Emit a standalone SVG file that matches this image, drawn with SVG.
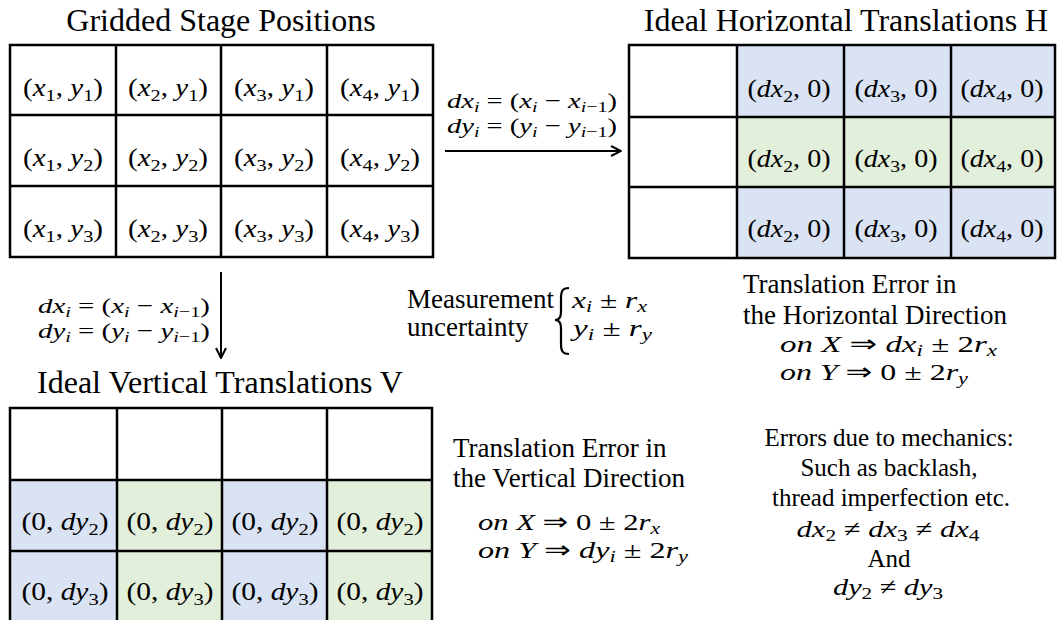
<svg xmlns="http://www.w3.org/2000/svg" width="1057" height="620" viewBox="0 0 1057 620">
<style>
.bg{fill:#ffffff}
.title{font-family:"Liberation Serif",serif;font-size:32px;fill:#000}
.txt{font-family:"Liberation Serif",serif;font-size:27px;fill:#000}
.txt2{font-family:"Liberation Serif",serif;font-size:25px;fill:#000}
.m{font-family:"Liberation Serif",serif;font-style:normal;fill:#000}
.c{font-size:25px}
.e{font-size:24px}
.i{font-style:italic}
.sub{font-size:70%}
.ar{font-family:"DejaVu Sans",sans-serif;font-style:normal;font-size:24px}
.grid{fill:none;stroke:#000;stroke-width:2.5}
.blue{fill:#dae3f3}
.green{fill:#e2efda}
.arrow{stroke:#000;stroke-width:2;fill:none}
</style>
<defs>
<marker id="ah" viewBox="0 0 12 12" refX="11" refY="6" markerWidth="12" markerHeight="12" markerUnits="userSpaceOnUse" orient="auto">
<path d="M1,1 L11,6 L1,11" fill="none" stroke="#000" stroke-width="2"/>
</marker>
</defs>
<rect class="bg" x="0" y="0" width="1057" height="620"/>

<g id="gridded-stage-positions">
<text class="title" x="221" y="31" text-anchor="middle">Gridded Stage Positions</text>
<rect class="grid" x="10" y="45" width="423" height="212"/>
<path class="grid" d="M116,45V257M221,45V257M327,45V257M10,115H433M10,186H433"/>
<g class="m c">
<text x="63" y="96" text-anchor="middle" textLength="80" lengthAdjust="spacingAndGlyphs">(<tspan class="i">x</tspan><tspan class="sub" dy="5">1</tspan><tspan dy="-5">, </tspan><tspan class="i">y</tspan><tspan class="sub" dy="5">1</tspan><tspan dy="-5">)</tspan></text>
<text x="168" y="96" text-anchor="middle" textLength="80" lengthAdjust="spacingAndGlyphs">(<tspan class="i">x</tspan><tspan class="sub" dy="5">2</tspan><tspan dy="-5">, </tspan><tspan class="i">y</tspan><tspan class="sub" dy="5">1</tspan><tspan dy="-5">)</tspan></text>
<text x="274" y="96" text-anchor="middle" textLength="80" lengthAdjust="spacingAndGlyphs">(<tspan class="i">x</tspan><tspan class="sub" dy="5">3</tspan><tspan dy="-5">, </tspan><tspan class="i">y</tspan><tspan class="sub" dy="5">1</tspan><tspan dy="-5">)</tspan></text>
<text x="380" y="96" text-anchor="middle" textLength="80" lengthAdjust="spacingAndGlyphs">(<tspan class="i">x</tspan><tspan class="sub" dy="5">4</tspan><tspan dy="-5">, </tspan><tspan class="i">y</tspan><tspan class="sub" dy="5">1</tspan><tspan dy="-5">)</tspan></text>
<text x="63" y="166" text-anchor="middle" textLength="80" lengthAdjust="spacingAndGlyphs">(<tspan class="i">x</tspan><tspan class="sub" dy="5">1</tspan><tspan dy="-5">, </tspan><tspan class="i">y</tspan><tspan class="sub" dy="5">2</tspan><tspan dy="-5">)</tspan></text>
<text x="168" y="166" text-anchor="middle" textLength="80" lengthAdjust="spacingAndGlyphs">(<tspan class="i">x</tspan><tspan class="sub" dy="5">2</tspan><tspan dy="-5">, </tspan><tspan class="i">y</tspan><tspan class="sub" dy="5">2</tspan><tspan dy="-5">)</tspan></text>
<text x="274" y="166" text-anchor="middle" textLength="80" lengthAdjust="spacingAndGlyphs">(<tspan class="i">x</tspan><tspan class="sub" dy="5">3</tspan><tspan dy="-5">, </tspan><tspan class="i">y</tspan><tspan class="sub" dy="5">2</tspan><tspan dy="-5">)</tspan></text>
<text x="380" y="166" text-anchor="middle" textLength="80" lengthAdjust="spacingAndGlyphs">(<tspan class="i">x</tspan><tspan class="sub" dy="5">4</tspan><tspan dy="-5">, </tspan><tspan class="i">y</tspan><tspan class="sub" dy="5">2</tspan><tspan dy="-5">)</tspan></text>
<text x="63" y="237" text-anchor="middle" textLength="80" lengthAdjust="spacingAndGlyphs">(<tspan class="i">x</tspan><tspan class="sub" dy="5">1</tspan><tspan dy="-5">, </tspan><tspan class="i">y</tspan><tspan class="sub" dy="5">3</tspan><tspan dy="-5">)</tspan></text>
<text x="168" y="237" text-anchor="middle" textLength="80" lengthAdjust="spacingAndGlyphs">(<tspan class="i">x</tspan><tspan class="sub" dy="5">2</tspan><tspan dy="-5">, </tspan><tspan class="i">y</tspan><tspan class="sub" dy="5">3</tspan><tspan dy="-5">)</tspan></text>
<text x="274" y="237" text-anchor="middle" textLength="80" lengthAdjust="spacingAndGlyphs">(<tspan class="i">x</tspan><tspan class="sub" dy="5">3</tspan><tspan dy="-5">, </tspan><tspan class="i">y</tspan><tspan class="sub" dy="5">3</tspan><tspan dy="-5">)</tspan></text>
<text x="380" y="237" text-anchor="middle" textLength="80" lengthAdjust="spacingAndGlyphs">(<tspan class="i">x</tspan><tspan class="sub" dy="5">4</tspan><tspan dy="-5">, </tspan><tspan class="i">y</tspan><tspan class="sub" dy="5">3</tspan><tspan dy="-5">)</tspan></text>
</g>
</g>

<g id="ideal-horizontal-translations">
<text class="title" x="846" y="31" text-anchor="middle">Ideal Horizontal Translations H</text>
<rect class="blue" x="737" y="45" width="318" height="72"/>
<rect class="green" x="737" y="117" width="318" height="70"/>
<rect class="blue" x="737" y="187" width="318" height="71"/>
<rect class="grid" x="629" y="45" width="426" height="213"/>
<path class="grid" d="M737,45V258M844,45V258M951,45V258M629,117H1055M629,187H1055"/>
<g class="m c">
<text x="789" y="97" text-anchor="middle" textLength="83" lengthAdjust="spacingAndGlyphs">(<tspan class="i">dx</tspan><tspan class="sub" dy="5">2</tspan><tspan dy="-5">, 0)</tspan></text>
<text x="896" y="97" text-anchor="middle" textLength="83" lengthAdjust="spacingAndGlyphs">(<tspan class="i">dx</tspan><tspan class="sub" dy="5">3</tspan><tspan dy="-5">, 0)</tspan></text>
<text x="1002" y="97" text-anchor="middle" textLength="83" lengthAdjust="spacingAndGlyphs">(<tspan class="i">dx</tspan><tspan class="sub" dy="5">4</tspan><tspan dy="-5">, 0)</tspan></text>
<text x="789" y="167" text-anchor="middle" textLength="83" lengthAdjust="spacingAndGlyphs">(<tspan class="i">dx</tspan><tspan class="sub" dy="5">2</tspan><tspan dy="-5">, 0)</tspan></text>
<text x="896" y="167" text-anchor="middle" textLength="83" lengthAdjust="spacingAndGlyphs">(<tspan class="i">dx</tspan><tspan class="sub" dy="5">3</tspan><tspan dy="-5">, 0)</tspan></text>
<text x="1002" y="167" text-anchor="middle" textLength="83" lengthAdjust="spacingAndGlyphs">(<tspan class="i">dx</tspan><tspan class="sub" dy="5">4</tspan><tspan dy="-5">, 0)</tspan></text>
<text x="789" y="237" text-anchor="middle" textLength="83" lengthAdjust="spacingAndGlyphs">(<tspan class="i">dx</tspan><tspan class="sub" dy="5">2</tspan><tspan dy="-5">, 0)</tspan></text>
<text x="896" y="237" text-anchor="middle" textLength="83" lengthAdjust="spacingAndGlyphs">(<tspan class="i">dx</tspan><tspan class="sub" dy="5">3</tspan><tspan dy="-5">, 0)</tspan></text>
<text x="1002" y="237" text-anchor="middle" textLength="83" lengthAdjust="spacingAndGlyphs">(<tspan class="i">dx</tspan><tspan class="sub" dy="5">4</tspan><tspan dy="-5">, 0)</tspan></text>
</g>
</g>

<g id="ideal-vertical-translations">
<text class="title" x="220" y="393" text-anchor="middle">Ideal Vertical Translations V</text>
<rect class="blue" x="10" y="480" width="107" height="142"/>
<rect class="green" x="117" y="480" width="105" height="142"/>
<rect class="blue" x="222" y="480" width="105" height="142"/>
<rect class="green" x="327" y="480" width="105" height="142"/>
<rect class="grid" x="10" y="408" width="422" height="214"/>
<path class="grid" d="M117,408V622M222,408V622M327,408V622M10,480H432M10,551H432"/>
<g class="m c">
<text x="65" y="530" text-anchor="middle" textLength="87" lengthAdjust="spacingAndGlyphs">(0, <tspan class="i">dy</tspan><tspan class="sub" dy="5">2</tspan><tspan dy="-5">)</tspan></text>
<text x="170" y="530" text-anchor="middle" textLength="87" lengthAdjust="spacingAndGlyphs">(0, <tspan class="i">dy</tspan><tspan class="sub" dy="5">2</tspan><tspan dy="-5">)</tspan></text>
<text x="275" y="530" text-anchor="middle" textLength="87" lengthAdjust="spacingAndGlyphs">(0, <tspan class="i">dy</tspan><tspan class="sub" dy="5">2</tspan><tspan dy="-5">)</tspan></text>
<text x="380" y="530" text-anchor="middle" textLength="87" lengthAdjust="spacingAndGlyphs">(0, <tspan class="i">dy</tspan><tspan class="sub" dy="5">2</tspan><tspan dy="-5">)</tspan></text>
<text x="65" y="600" text-anchor="middle" textLength="87" lengthAdjust="spacingAndGlyphs">(0, <tspan class="i">dy</tspan><tspan class="sub" dy="5">3</tspan><tspan dy="-5">)</tspan></text>
<text x="170" y="600" text-anchor="middle" textLength="87" lengthAdjust="spacingAndGlyphs">(0, <tspan class="i">dy</tspan><tspan class="sub" dy="5">3</tspan><tspan dy="-5">)</tspan></text>
<text x="275" y="600" text-anchor="middle" textLength="87" lengthAdjust="spacingAndGlyphs">(0, <tspan class="i">dy</tspan><tspan class="sub" dy="5">3</tspan><tspan dy="-5">)</tspan></text>
<text x="380" y="600" text-anchor="middle" textLength="87" lengthAdjust="spacingAndGlyphs">(0, <tspan class="i">dy</tspan><tspan class="sub" dy="5">3</tspan><tspan dy="-5">)</tspan></text>
</g>
</g>

<g id="connectors">
<line class="arrow" x1="445" y1="151" x2="621" y2="151" marker-end="url(#ah)"/>
<line class="arrow" x1="221" y1="272" x2="221" y2="358" marker-end="url(#ah)"/>
</g>

<g id="horizontal-arrow-label" class="m" font-size="22">
<text x="447" y="108" textLength="170" lengthAdjust="spacingAndGlyphs"><tspan class="i">dx</tspan><tspan class="sub i" dy="4">i</tspan><tspan dy="-4"> = (</tspan><tspan class="i">x</tspan><tspan class="sub i" dy="4">i</tspan><tspan dy="-4"> − </tspan><tspan class="i">x</tspan><tspan class="sub" dy="4"><tspan class="i">i</tspan>−1</tspan><tspan dy="-4">)</tspan></text>
<text x="447" y="133" textLength="170" lengthAdjust="spacingAndGlyphs"><tspan class="i">dy</tspan><tspan class="sub i" dy="4">i</tspan><tspan dy="-4"> = (</tspan><tspan class="i">y</tspan><tspan class="sub i" dy="4">i</tspan><tspan dy="-4"> − </tspan><tspan class="i">y</tspan><tspan class="sub" dy="4"><tspan class="i">i</tspan>−1</tspan><tspan dy="-4">)</tspan></text>
</g>

<g id="vertical-arrow-label" class="m" font-size="22">
<text x="38" y="313" textLength="172" lengthAdjust="spacingAndGlyphs"><tspan class="i">dx</tspan><tspan class="sub i" dy="4">i</tspan><tspan dy="-4"> = (</tspan><tspan class="i">x</tspan><tspan class="sub i" dy="4">i</tspan><tspan dy="-4"> − </tspan><tspan class="i">x</tspan><tspan class="sub" dy="4"><tspan class="i">i</tspan>−1</tspan><tspan dy="-4">)</tspan></text>
<text x="38" y="338" textLength="172" lengthAdjust="spacingAndGlyphs"><tspan class="i">dy</tspan><tspan class="sub i" dy="4">i</tspan><tspan dy="-4"> = (</tspan><tspan class="i">y</tspan><tspan class="sub i" dy="4">i</tspan><tspan dy="-4"> − </tspan><tspan class="i">y</tspan><tspan class="sub" dy="4"><tspan class="i">i</tspan>−1</tspan><tspan dy="-4">)</tspan></text>
</g>

<g id="measurement-uncertainty">
<text class="txt" x="407" y="308">Measurement</text>
<text class="txt" x="407" y="336">uncertainty</text>
<path d="M569,288 C562,288 561,292 561,298 L561,312 C561,317 559,320 555,320 C559,320 561,323 561,328 L561,344 C561,350 562,354 569,354" fill="none" stroke="#000" stroke-width="2.2"/>
<text class="m e" x="572" y="308" textLength="75" lengthAdjust="spacingAndGlyphs"><tspan class="i">x</tspan><tspan class="sub i" dy="4">i</tspan><tspan dy="-4"> ± </tspan><tspan class="i">r</tspan><tspan class="sub i" dy="4">x</tspan></text>
<text class="m e" x="573" y="336" textLength="79" lengthAdjust="spacingAndGlyphs"><tspan class="i">y</tspan><tspan class="sub i" dy="4">i</tspan><tspan dy="-4"> ± </tspan><tspan class="i">r</tspan><tspan class="sub i" dy="4">y</tspan></text>
</g>

<g id="horizontal-error">
<text class="txt" x="743" y="293">Translation Error in</text>
<text class="txt" x="743" y="324">the Horizontal Direction</text>
<text class="m e" x="780" y="352" textLength="217" lengthAdjust="spacingAndGlyphs"><tspan class="i">on X</tspan> <tspan class="ar">⇒</tspan> <tspan class="i">dx</tspan><tspan class="sub i" dy="4">i</tspan><tspan dy="-4"> ± 2</tspan><tspan class="i">r</tspan><tspan class="sub i" dy="4">x</tspan></text>
<text class="m e" x="780" y="380" textLength="188" lengthAdjust="spacingAndGlyphs"><tspan class="i">on Y</tspan> <tspan class="ar">⇒</tspan> 0 ± 2<tspan class="i">r</tspan><tspan class="sub i" dy="4">y</tspan></text>
</g>

<g id="vertical-error">
<text class="txt" x="453" y="457">Translation Error in</text>
<text class="txt" x="453" y="487">the Vertical Direction</text>
<text class="m e" x="478" y="530" textLength="182" lengthAdjust="spacingAndGlyphs"><tspan class="i">on X</tspan> <tspan class="ar">⇒</tspan> 0 ± 2<tspan class="i">r</tspan><tspan class="sub i" dy="4">x</tspan></text>
<text class="m e" x="478" y="558" textLength="210" lengthAdjust="spacingAndGlyphs"><tspan class="i">on Y</tspan> <tspan class="ar">⇒</tspan> <tspan class="i">dy</tspan><tspan class="sub i" dy="4">i</tspan><tspan dy="-4"> ± 2</tspan><tspan class="i">r</tspan><tspan class="sub i" dy="4">y</tspan></text>
</g>

<g id="mechanical-errors">
<text class="txt2" x="889" y="446" text-anchor="middle">Errors due to mechanics:</text>
<text class="txt2" x="889" y="476" text-anchor="middle">Such as backlash,</text>
<text class="txt2" x="891" y="506" text-anchor="middle">thread imperfection etc.</text>
<text class="m e" x="888" y="537" text-anchor="middle" textLength="183" lengthAdjust="spacingAndGlyphs"><tspan class="i">dx</tspan><tspan class="sub" dy="4">2</tspan><tspan dy="-4"> ≠ </tspan><tspan class="i">dx</tspan><tspan class="sub" dy="4">3</tspan><tspan dy="-4"> ≠ </tspan><tspan class="i">dx</tspan><tspan class="sub" dy="4">4</tspan></text>
<text class="txt2" x="889" y="567" text-anchor="middle">And</text>
<text class="m e" x="888" y="595" text-anchor="middle" textLength="110" lengthAdjust="spacingAndGlyphs"><tspan class="i">dy</tspan><tspan class="sub" dy="4">2</tspan><tspan dy="-4"> ≠ </tspan><tspan class="i">dy</tspan><tspan class="sub" dy="4">3</tspan></text>
</g>
</svg>
